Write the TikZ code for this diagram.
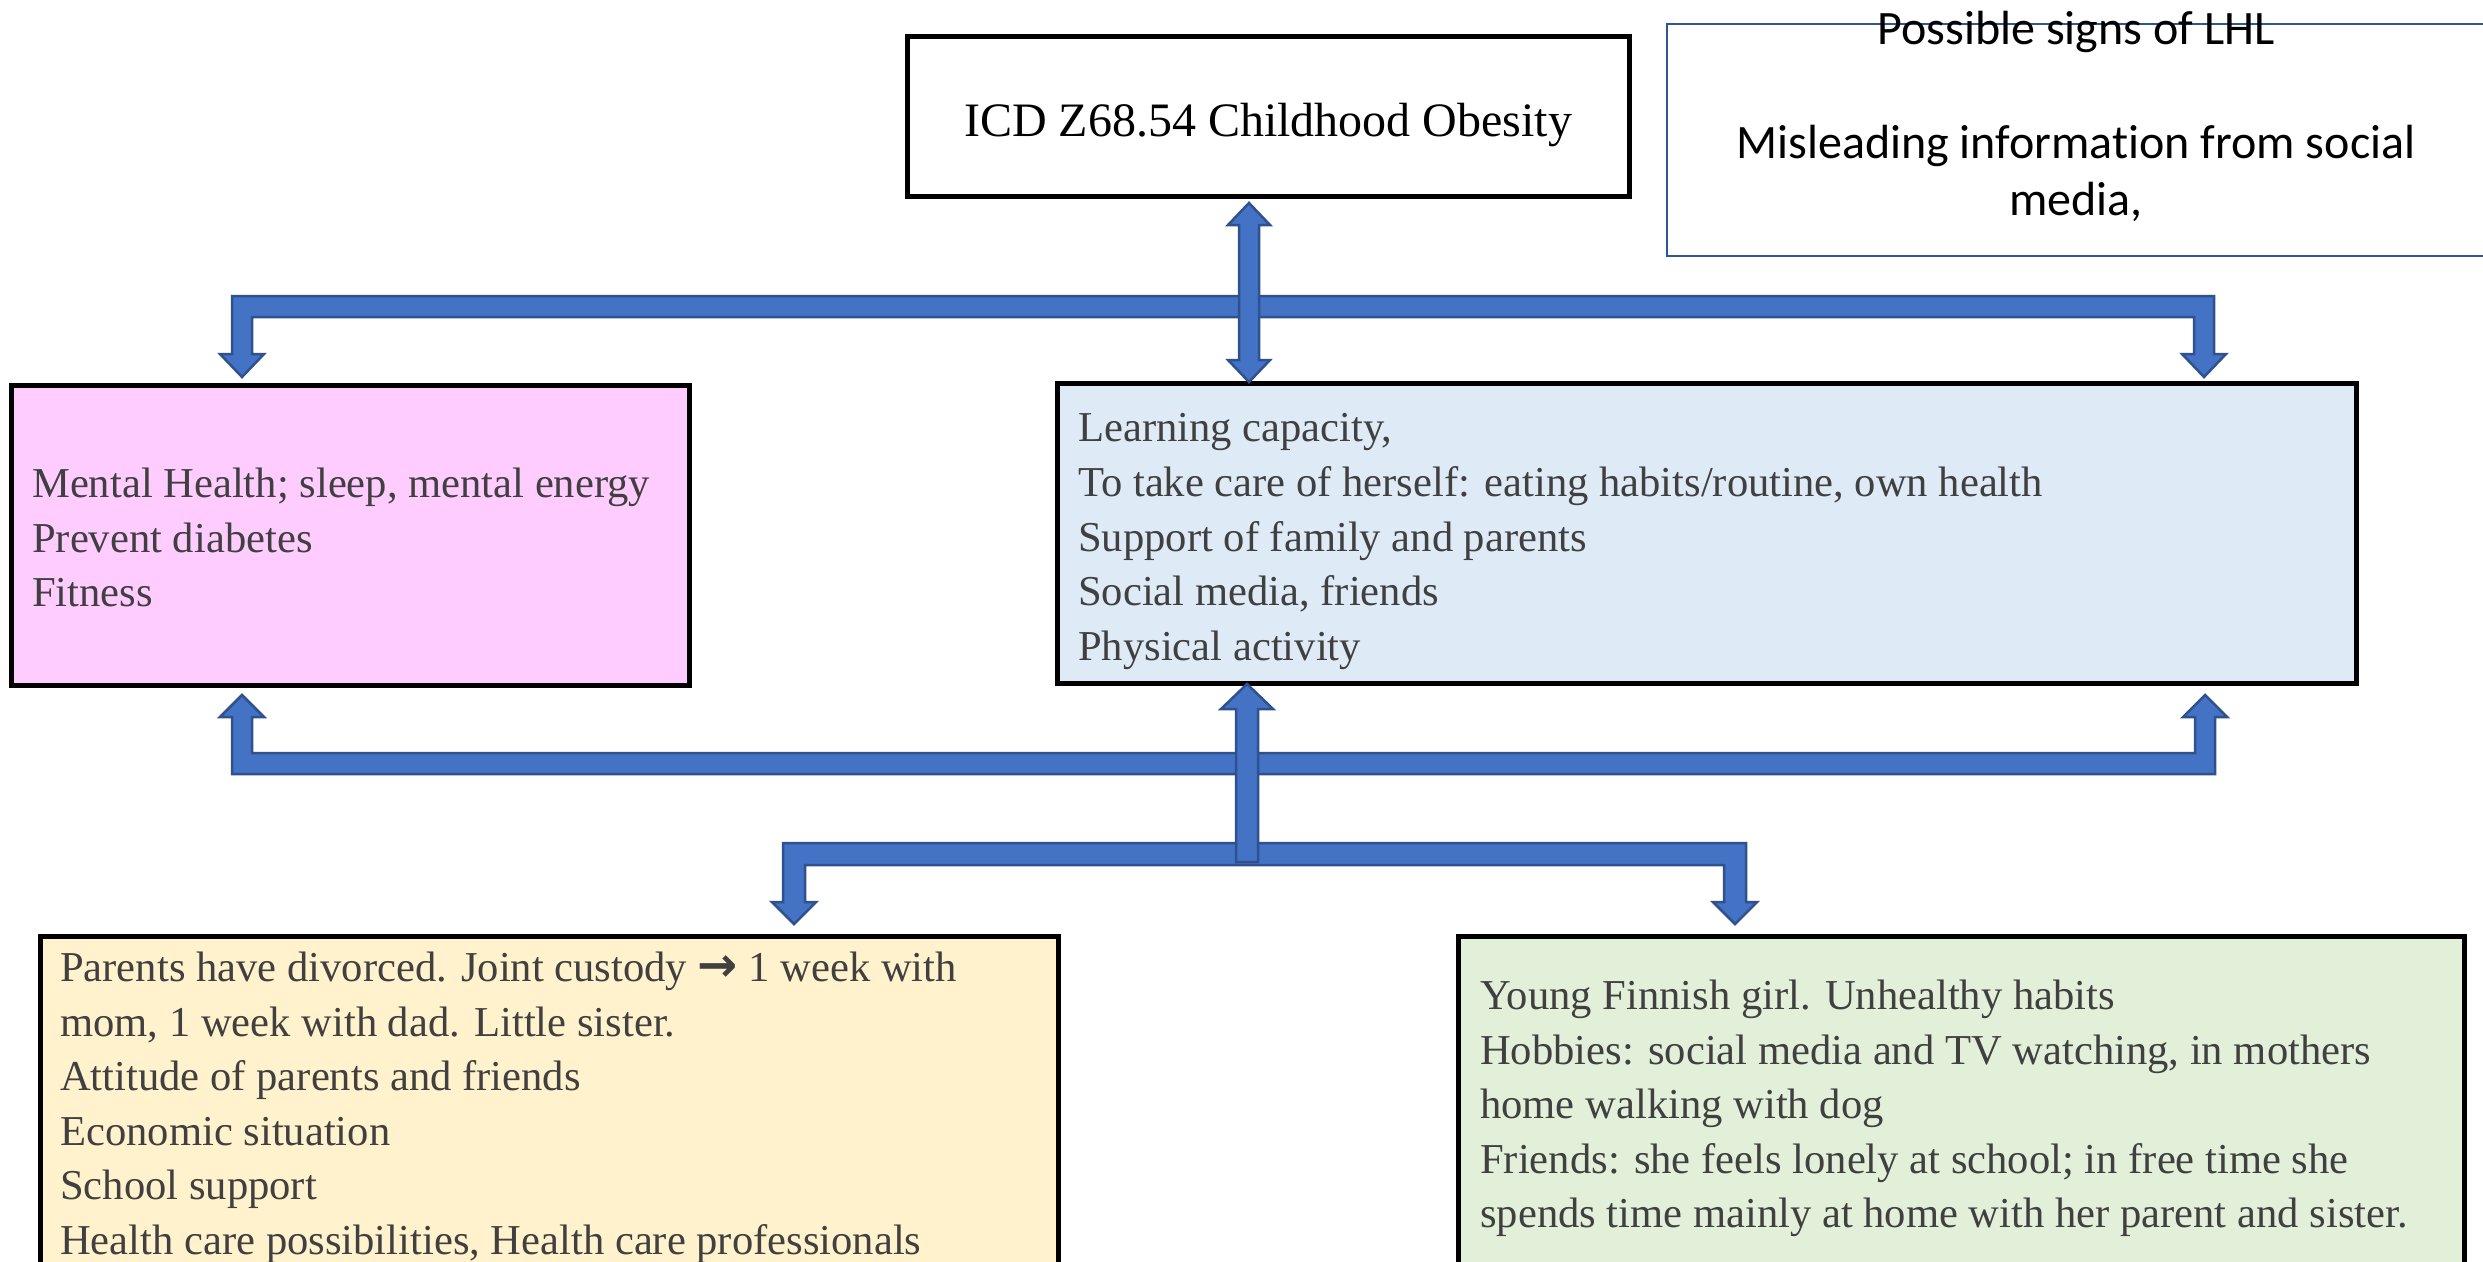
\documentclass[tikz,border=0pt]{standalone}
\usepackage{fontspec}
\setmainfont{Liberation Serif}
\newfontfamily\calibrifont[Ligatures=NoCommon]{Carlito}
\newfontfamily\arrowfont{DejaVu Sans}
\usetikzlibrary{calc}

\definecolor{arrowfill}{HTML}{4472C4}
\definecolor{arrowline}{HTML}{2F528F}
\definecolor{pinkfill}{HTML}{FFCCFF}
\definecolor{bluefill}{HTML}{DEEBF7}
\definecolor{yellowfill}{HTML}{FFF2CC}
\definecolor{greenfill}{HTML}{E2F0D9}
\definecolor{bodytext}{HTML}{404040}
\definecolor{lhlline}{HTML}{2F5597}

\tikzset{
  box/.style={draw=black, line width=5pt, anchor=north west, inner sep=0pt, outer sep=0pt},
  bodytxt/.style={anchor=north west, inner sep=0pt, align=left, text=bodytext,
    font={\fontsize{42.6}{54.6}\selectfont}},
  blockarrow/.style={fill=arrowfill, draw=arrowline, line width=2.5pt, line join=miter},
}

\begin{document}
\begin{tikzpicture}[x=1pt,y=-1pt]
\useasboundingbox (0,0) rectangle (2483,1261);
\fill[white] (0,0) rectangle (2483,1261);

% --- boxes ---
\node[box, minimum width=722pt, minimum height=160pt] (icd) at (907,36) {};
\node[inner sep=0pt, font={\fontsize{48}{57}\selectfont}] (icdtext)
  at ([yshift=-9pt]icd.center) {ICD Z68.54 Childhood Obesity};

\node[draw=lhlline, line width=2pt, anchor=north west, inner sep=0pt,
      minimum width=820pt, minimum height=232pt] (lhl) at (1666,23) {};
\node[anchor=north, inner sep=0pt, align=center,
      font={\calibrifont\fontsize{48}{57}\selectfont}] (lhltext) at (2076,4.5)
  {\strut Possible signs of LHL\\[57pt] Misleading information from social\\ media,};

\node[box, fill=pinkfill, minimum width=678pt, minimum height=300pt] (pink) at (11,385) {};
\node[bodytxt] (pinktext) at (32,459)
  {\strut Mental Health; sleep, mental energy\\ Prevent diabetes\\ Fitness};

\node[box, fill=bluefill, minimum width=1299pt, minimum height=300pt] (blue) at (1057,383) {};
\node[bodytxt] (bluetext) at (1078,403.5)
  {\strut Learning capacity,\\
   To take care of herself: eating habits/routine, own health\\
   Support of family and parents\\
   Social media, friends\\
   Physical activity};

\node[box, fill=yellowfill, minimum width=1018pt, minimum height=420pt] (yellow) at (40,936) {};
\node[bodytxt] (yellowtext) at (60,943)
  {\strut Parents have divorced. Joint custody {\arrowfont\bfseries\fontsize{48}{54.6}\selectfont →} 1 week with\\
   mom, 1 week with dad. Little sister.\\
   Attitude of parents and friends\\
   Economic situation\\
   School support\\
   Health care possibilities, Health care professionals};

\node[box, fill=greenfill, minimum width=1006pt, minimum height=420pt] (green) at (1458,936) {};
\node[bodytxt] (greentext) at (1480,971)
  {\strut Young Finnish girl. Unhealthy habits\\
   Hobbies: social media and TV watching, in mothers\\
   home walking with dog\\
   Friends: she feels lonely at school; in free time she\\
   spends time mainly at home with her parent and sister.};

% --- upper connector: bar with arrows down to the pink and blue boxes ---
\draw[blockarrow] ([yshift=8pt]pink.north -| 242,0) coordinate (tipPinkTop)
  -- ++(22,-23) -- ++(-12,0) -- ++(0,-37) -- ++(1942,0) -- ++(0,37) -- ++(-12,0)
  -- ++(22,23) coordinate (tipBlueTop)
  -- ++(22,-23) -- ++(-12,0) -- ++(0,-58) -- ++(-1982,0) -- ++(0,58) -- ++(-12,0) -- cycle;

% --- double arrow between the diagnosis and the blue box ---
\draw[blockarrow] ([yshift=-7pt]icd.south -| 1249,0) coordinate (dblTop)
  -- ++(21,22) -- ++(-11,0) -- ++(0,135) -- ++(11,0)
  -- ++(-21,22) coordinate (dblBottom)
  -- ++(-21,-22) -- ++(11,0) -- ++(0,-135) -- ++(-11,0) -- cycle;

% --- lower connector: bar with arrows up to the pink and blue boxes ---
\draw[blockarrow] ([yshift=-10pt]pink.south -| 242,0) coordinate (tipPinkBot)
  -- ++(22,22) -- ++(-12,0) -- ++(0,36) -- ++(1943,0) -- ++(0,-36) -- ++(-12,0)
  -- ++(22,-22) coordinate (tipBlueBot)
  -- ++(22,22) -- ++(-12,0) -- ++(0,57) -- ++(-1983,0) -- ++(0,-57) -- ++(-12,0) -- cycle;

% --- bottom connector: bar with arrows down to the yellow and green boxes ---
\draw[blockarrow] ([yshift=12pt]yellow.north -| 794,0) coordinate (tipYellow)
  -- ++(22,-22) -- ++(-11,0) -- ++(0,-37) -- ++(919,0) -- ++(0,37) -- ++(-11,0)
  -- ++(22,22) coordinate (tipGreen)
  -- ++(22,-22) -- ++(-11,0) -- ++(0,-59) -- ++(-963,0) -- ++(0,59) -- ++(-11,0) -- cycle;

% --- central arrow up into the blue box ---
\draw[blockarrow] ([yshift=-1pt]blue.south -| 1247,0) coordinate (tipCentre)
  -- ++(26,25) -- ++(-15,0) -- ++(0,153) -- ++(-22,0) -- ++(0,-153) -- ++(-15,0) -- cycle;
\end{tikzpicture}
\end{document}
